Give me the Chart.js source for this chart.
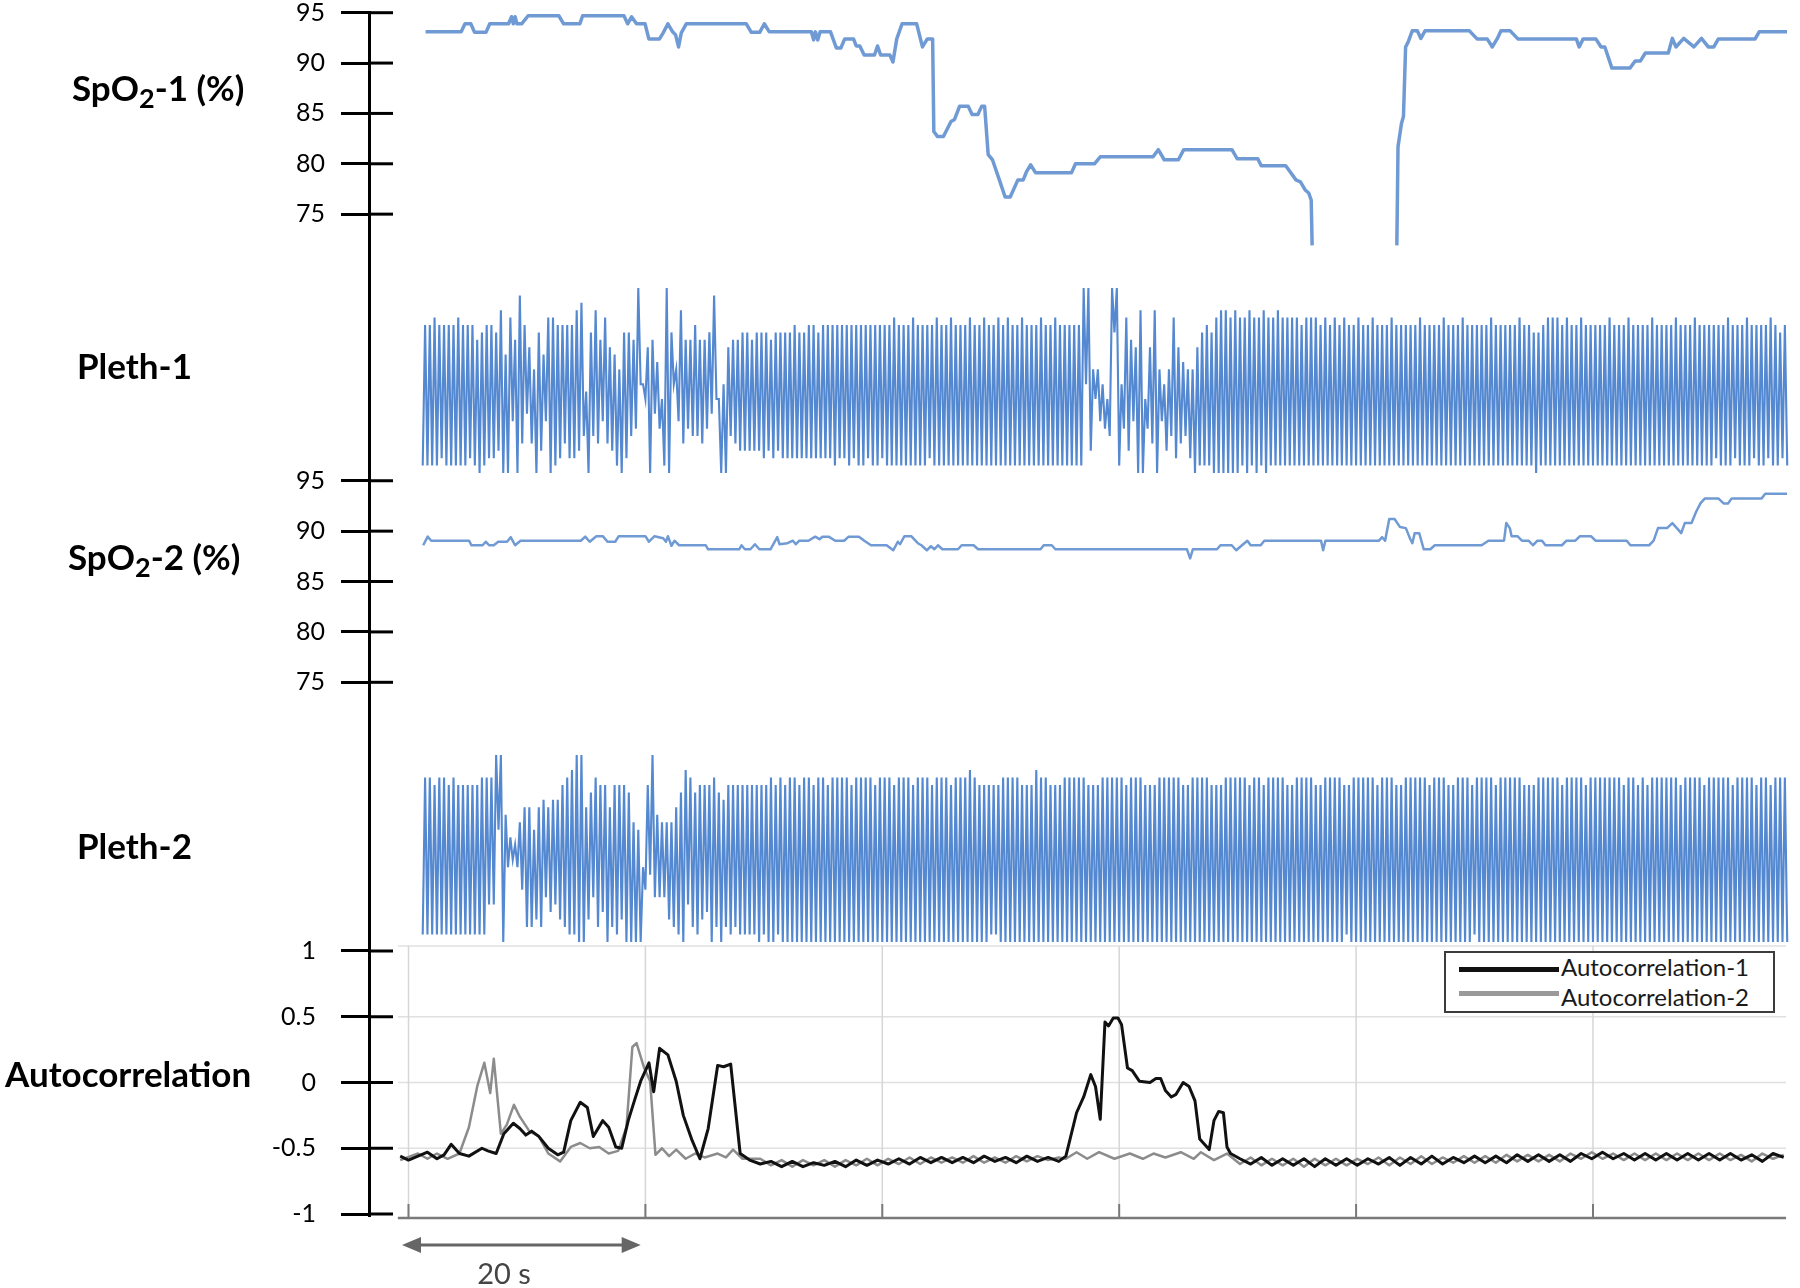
<!DOCTYPE html>
<html>
<head>
<meta charset="utf-8">
<title>SpO2 / Pleth / Autocorrelation</title>
<script src="https://cdn.jsdelivr.net/npm/chart.js@4.4.1/dist/chart.umd.min.js"></script>
<style>
  html, body { margin: 0; padding: 0; background: #fff; }
  #wrap { position: relative; width: 1800px; height: 1288px; font-family: Lato, sans-serif; overflow: hidden; }
  #chart { position: absolute; left: 0; top: 0; }
  .lbl { position: absolute; font-weight: bold; font-size: 35px; line-height: 35px; color: #000; white-space: nowrap; }
  .lbl sub { font-size: 27px; line-height: 0; vertical-align: -7px; }
  #legend { position: absolute; left: 1444px; top: 951px; width: 331px; height: 62px; box-sizing: border-box;
            border: 2px solid #3c3c3c; background: #fff; }
  #legend .ln { position: absolute; left: 13px; width: 100px; height: 5px; }
  #legend .tx { position: absolute; left: 115px; font-size: 24px; line-height: 24px; color: #1a1a1a; white-space: nowrap; }
  #span20 { position: absolute; left: 444px; top: 1258px; width: 120px; text-align: center;
            font-size: 29px; line-height: 29px; color: #444; }
</style>
</head>
<body>
<div id="wrap">
  <canvas id="chart" width="1800" height="1288"></canvas>
  <div class="lbl" style="left:72px;top:70px">SpO<sub>2</sub>-1 (%)</div>
  <div class="lbl" style="left:77px;top:348px">Pleth-1</div>
  <div class="lbl" style="left:68px;top:539px">SpO<sub>2</sub>-2 (%)</div>
  <div class="lbl" style="left:77px;top:828px">Pleth-2</div>
  <div class="lbl" style="left:5px;top:1056px">Autocorrelation</div>
  <div id="legend">
    <div class="ln" style="top:14px;background:#111"></div>
    <div class="tx" style="top:2px">Autocorrelation-1</div>
    <div class="ln" style="top:38px;background:#9a9a9a"></div>
    <div class="tx" style="top:32px">Autocorrelation-2</div>
  </div>
  <div id="span20">20 s</div>
</div>

<script>
// time axis (seconds) and tick values
const timeGrid = [0, 20, 40, 60, 80, 100];
const spoTicks = [95, 90, 85, 80, 75];
const autoTicks = [1, 0.5, 0, -0.5, -1];

// SpO2-1 (%) - null marks the signal dropout
const spo1Time = [1.44, 4.45, 4.77, 5.26, 5.58, 6.54, 6.86, 8.45, 8.7, 8.85,
  9.0, 9.15, 9.55, 10.1, 12.69, 13.1, 14.47, 14.7, 18.19, 18.5,
  18.83, 19.25, 19.97, 20.29, 21.19, 21.5, 21.9, 22.3, 22.55, 22.8,
  23.03, 23.45, 28.52, 28.94, 29.65, 30.04, 30.46, 34.01, 34.2, 34.35,
  34.55, 34.75, 35.63, 36.12, 36.5, 36.83, 37.57, 37.8, 38.1, 38.47,
  39.34, 39.6, 39.86, 40.64, 40.9, 41.22, 41.67, 42.9, 43.39, 43.8,
  44.25, 44.35, 44.67, 45.16, 45.8, 46.1, 46.52, 47.26, 47.58, 48.07,
  48.39, 48.64, 48.94, 49.3, 49.94, 50.37, 50.8, 51.45, 51.9, 52.17,
  52.52, 52.95, 55.97, 56.31, 57.91, 58.42, 62.86, 63.3, 63.8, 65.0,
  65.45, 69.52, 69.96, 71.7, 71.99, 74.06, 74.49, 74.92, 75.3, 75.7,
  76.0, 76.21, 76.29, 80.0, 83.44, 83.54, 83.83, 84.0, 84.18, 84.4,
  84.74, 85.17, 85.47, 85.82, 89.57, 90.21, 91.07, 91.5, 91.93, 92.23,
  93.01, 93.66, 98.6, 98.83, 99.17, 100.24, 100.68, 101.0, 101.6, 103.12,
  103.56, 104.0, 104.42, 106.36, 106.7, 107.0, 107.66, 108.52, 109.16, 109.73,
  110.2, 110.59, 113.69, 114.03, 116.38];
const spo1Value = [93.1, 93.1, 93.9, 93.9, 93.05, 93.05, 93.9, 93.9, 94.6, 93.9,
  94.6, 93.9, 93.9, 94.7, 94.7, 93.9, 93.9, 94.7, 94.7, 93.9,
  94.6, 93.9, 93.9, 92.4, 92.4, 93.0, 93.9, 93.1, 92.8, 91.6,
  93.0, 93.9, 93.9, 93.05, 93.05, 93.9, 93.1, 93.1, 92.3, 93.1,
  92.3, 93.1, 93.1, 91.5, 91.5, 92.4, 92.4, 91.7, 91.7, 90.8,
  90.8, 91.7, 90.8, 90.8, 90.1, 92.4, 93.9, 93.9, 91.6, 92.4,
  92.4, 83.2, 82.7, 82.7, 84.2, 84.4, 85.7, 85.7, 84.9, 84.9,
  85.7, 85.7, 80.9, 80.4, 78.2, 76.7, 76.7, 78.4, 78.4, 79.2,
  79.9, 79.1, 79.1, 80.0, 80.0, 80.7, 80.7, 81.4, 80.4, 80.4,
  81.4, 81.4, 80.5, 80.5, 79.8, 79.8, 79.1, 78.4, 78.2, 77.4,
  77.1, 76.4, 71.9, null, 71.9, 81.7, 84.0, 84.7, 91.6, 92.1,
  93.2, 93.2, 92.45, 93.2, 93.2, 92.4, 92.4, 91.6, 92.45, 93.2,
  93.2, 92.4, 92.4, 91.6, 92.4, 92.4, 91.6, 91.6, 89.5, 89.5,
  90.2, 90.2, 91.0, 91.0, 92.45, 91.6, 92.45, 91.6, 92.45, 91.6,
  91.6, 92.4, 92.4, 93.1, 93.1];

// SpO2-2 (%)
const spo2Time = [1.24, 1.62, 1.92, 5.12, 5.31, 6.26, 6.52, 6.8, 7.2, 7.57,
  8.32, 8.63, 9.0, 9.46, 14.55, 14.92, 15.3, 15.86, 16.4, 16.8,
  17.45, 17.75, 20.0, 20.3, 20.77, 21.5, 21.74, 21.9, 22.2, 22.46,
  22.84, 25.1, 25.29, 27.93, 28.11, 28.4, 28.87, 29.25, 29.62, 30.56,
  31.13, 31.32, 32.0, 32.45, 32.7, 33.0, 33.77, 34.33, 34.7, 34.95,
  35.47, 36.03, 36.78, 37.16, 38.03, 38.48, 39.05, 40.36, 40.93, 41.31,
  41.5, 41.87, 42.44, 43.0, 43.3, 43.76, 44.1, 44.4, 44.7, 45.07,
  46.39, 46.7, 47.71, 48.09, 53.36, 53.63, 54.31, 54.61, 65.72, 65.99,
  66.22, 68.26, 68.55, 69.5, 69.88, 70.37, 70.82, 71.1, 71.95, 72.25,
  77.04, 77.22, 77.41, 81.93, 82.2, 82.45, 82.8, 83.25, 83.71, 84.2,
  84.58, 84.75, 84.95, 85.33, 85.71, 86.27, 86.65, 90.6, 91.17, 92.49,
  92.68, 92.98, 93.13, 93.62, 94.0, 94.56, 94.93, 95.31, 95.7, 95.99,
  97.38, 97.76, 98.51, 98.9, 99.83, 100.21, 102.85, 103.16, 104.74, 105.12,
  105.49, 106.25, 106.7, 107.08, 107.45, 107.75, 108.32, 108.7, 109.07, 109.45,
  110.58, 111.03, 111.4, 111.71, 114.24, 114.54, 116.38];
const spo2Value = [88.6, 89.45, 89.05, 89.05, 88.6, 88.6, 88.95, 88.6, 88.6, 88.95,
  88.95, 89.4, 88.6, 89.05, 89.05, 89.45, 88.95, 89.5, 89.5, 88.95,
  88.95, 89.5, 89.5, 88.95, 89.5, 89.3, 88.95, 89.5, 88.55, 89.05,
  88.6, 88.6, 88.2, 88.2, 88.6, 88.2, 88.2, 88.7, 88.2, 88.2,
  89.4, 88.7, 88.8, 89.05, 88.7, 89.05, 89.05, 89.45, 89.2, 89.45,
  89.45, 89.05, 89.05, 89.45, 89.45, 89.05, 88.6, 88.6, 88.1, 88.95,
  88.7, 89.5, 89.5, 88.8, 88.6, 88.1, 88.5, 88.2, 88.6, 88.2,
  88.2, 88.6, 88.6, 88.2, 88.2, 88.6, 88.6, 88.2, 88.2, 87.3,
  88.2, 88.2, 88.6, 88.6, 88.1, 88.6, 89.05, 88.6, 88.6, 89.05,
  89.05, 88.1, 89.05, 89.05, 89.4, 89.05, 91.2, 91.2, 90.4, 90.3,
  89.2, 88.8, 89.8, 89.8, 88.2, 88.2, 88.6, 88.6, 89.05, 89.05,
  90.8, 90.3, 89.5, 89.5, 89.05, 89.05, 88.6, 89.05, 89.05, 88.6,
  88.6, 89.05, 89.05, 89.5, 89.5, 89.05, 89.05, 88.6, 88.6, 89.05,
  90.3, 90.3, 90.8, 90.3, 89.8, 90.8, 90.8, 91.9, 92.75, 93.25,
  93.25, 92.75, 92.75, 93.25, 93.25, 93.7, 93.7];

// Pleth waveforms: one sample every 0.2 s from 1.2 s, alternating trough / peak.
// Each letter is a level: A = 0 ... Z = 100 (steps of 4).
const plethStart = 1.2;
const plethStep = 0.2;
const pleth1Levels = [
  'BUBUBVBUCU BUBUBVBUBU CUB',
  'SATBUCUCTDWAQAVHSAYE UIREOATDQHVAVBUCUEUC UCWDXFLATFWESHVERDQB OATCTFSGZMMKRASIPGKB ZATMOHWESGSFUFSESGTI YKKAMARFSESDT',
  'DTDSDTDTCT DSCTDTCTCT CUCTCTCUCU CTCUCUCUBU CUCUBUCUBU BUCUBUBUCU BUBVBUBUBU BVBUBUBUCU BVBUBUBVBU BUBUBVBUBU BVBUBUBV',
  'BUBVBUBUBV BUBUBUBVBU BUBVBUBUBU BUBUB',
  'ZMZDOKOHMG KFZTZBMGVD SHRAWAKGRE WAOHMDOFVC REPFOCOARB TBUBTAVA',
  'WAWAVAWAVBVAWBVAVBWA VBVBWBVBVBVBVBUBVBVB VBUBVBUBVBUBVBUBUBVB UBUBVBUBUBUBVBUBUBUB',
  'UBUBVBUBUBUBUBVBUBUB UBVBUBUBUBUBUBVBUBUB UBUBUBVBUBUBTATBUBVB VBVBUBVBUBUBVBUBUBUB',
  'UBUBVBUBUBUBVBUBUBUB UBVBUBUBUBUBVBUBUBUB VBUBUBUBUCUBUBVBUCUB UBVBUCUBUBUCVBUBTCUB'
];
const pleth2Levels = [
  'BWBWBVBWBW BVBWBVBVBV BVBVBWBWFW',
  'FZPZARKOLNKQ',
  'HSCSCPDSCTGSETFTDVCWBXBZA',
  'ZASDUGWCVEVASCVBVDVAUAQAPA',
  'KHVJZGRGQ',
  'GQDQCSBUAXFWCUBVDVEVAWCUATCVBVCVBVB',
  'VBVBVAVBVAWAVBWAVAWA WAVAWAWAVAWAWAVAWAWA WAWAVAWAWAWAWAVAWAWA WAVAWAWAWAVAWAWAWAVA',
  'WAWAWAVAWAWAWAXAWAVA VAVBVBVAWAWAWAWAVAVA VAXAWAWAVAVAVAWAWAWA WAWAVAVAVAWAWAWAWAWA',
  'VAWAWAWAVAVAVAWAWAWA WAWAVAVAWAWAWAWAVAVA VAWAWAWAWAWAVAWAWAVA WAWAWAWAVAVAWAWAWAWA',
  'VAVAWAWAWAWAVBVAWAWA WAWAWAVAWAWAWAVAVAWA WAWAWAWAVAWAWAWAVAVA WAWAWAVBWAWAWAWAVAWA',
  'WAWAWAWAVAVAVAWAWAWA WAWAVAWAWAWAWAVAWAWA WAWAWAWAWAVAWAWAVAWA VAWAWAWAWAWAWAVAWAWA',
  'WAWAVAWAWAWAWAWAVAWA WAWAWAVAWAWAVAWAWAWA'
];

// Autocorrelation-1 (black)
const auto1Time = [-0.7, 0.0, 0.8, 1.6, 2.4, 3.0, 3.6, 4.3, 5.1, 6.2,
  6.7, 7.4, 8.05, 8.85, 9.4, 9.9, 10.4, 11.0, 11.8, 12.6,
  13.1, 13.7, 14.5, 15.1, 15.6, 16.4, 16.9, 17.5, 18.0, 18.55,
  19.1, 19.6, 20.3, 20.7, 21.2, 21.9, 22.6, 23.2, 23.9, 24.6,
  25.3, 26.1, 26.6, 27.2, 28.0, 28.8,
  29.7, 30.6, 31.5, 32.4, 33.3, 34.2, 35.1, 36.0, 36.9, 37.8,
  38.7, 39.6, 40.5, 41.4, 42.3, 43.2, 44.1, 45.0, 45.9, 46.8,
  47.7, 48.6, 49.5, 50.4, 51.3, 52.2, 53.1, 54.0, 54.9,
  55.5, 56.4, 57.0, 57.6, 58.0, 58.4, 58.8, 59.1, 59.5, 59.9,
  60.2, 60.7, 61.1, 61.7, 62.6, 63.1, 63.5, 63.9, 64.4, 64.8,
  65.4, 65.9, 66.4, 66.8, 67.6, 68.0, 68.4, 68.8, 69.1, 69.4,
  70.2, 71.1, 72.0, 72.9, 73.8, 74.7, 75.6, 76.5, 77.4, 78.3,
  79.2, 80.1, 81.0, 81.9, 82.8, 83.7, 84.6, 85.5, 86.4, 87.3,
  88.2, 89.1, 90.0, 90.9, 91.8, 92.7, 93.6, 94.5, 95.4, 96.3,
  97.2, 98.1, 99.0, 99.9, 100.8, 101.7, 102.6, 103.5, 104.4, 105.3,
  106.2, 107.1, 108.0, 108.9, 109.8, 110.7, 111.6, 112.5, 113.4, 114.3,
  115.2, 116.1];
const auto1Value = [-0.56, -0.59, -0.56, -0.53, -0.58, -0.55, -0.47, -0.54, -0.56, -0.50,
  -0.52, -0.54, -0.39, -0.31, -0.35, -0.40, -0.37, -0.41, -0.50, -0.55,
  -0.53, -0.29, -0.15, -0.19, -0.41, -0.29, -0.34, -0.49, -0.50, -0.29,
  -0.13, 0.01, 0.15, -0.07, 0.26, 0.21, 0.01, -0.25, -0.43, -0.58,
  -0.35, 0.13, 0.12, 0.14, -0.54, -0.59,
  -0.62, -0.60, -0.64, -0.60, -0.64, -0.61, -0.63, -0.60, -0.64, -0.59,
  -0.63, -0.59, -0.62, -0.58, -0.62, -0.57, -0.61, -0.57, -0.61, -0.57,
  -0.61, -0.56, -0.60, -0.57, -0.61, -0.56, -0.60, -0.57, -0.60,
  -0.56, -0.23, -0.11, 0.06, -0.03, -0.28, 0.46, 0.43, 0.49, 0.49,
  0.44, 0.11, 0.09, 0.01, 0.0, 0.03, 0.03, -0.06, -0.11, -0.09,
  0.0, -0.03, -0.14, -0.43, -0.51, -0.29, -0.22, -0.23, -0.49, -0.54,
  -0.58, -0.62, -0.57, -0.63, -0.58, -0.63, -0.58, -0.64, -0.58, -0.63,
  -0.58, -0.63, -0.58, -0.62, -0.57, -0.63, -0.57, -0.62, -0.56, -0.62,
  -0.57, -0.61, -0.56, -0.61, -0.56, -0.61, -0.55, -0.60, -0.55, -0.60,
  -0.55, -0.60, -0.54, -0.58, -0.53, -0.58, -0.54, -0.59, -0.54, -0.59,
  -0.54, -0.59, -0.54, -0.59, -0.54, -0.59, -0.54, -0.59, -0.55, -0.60,
  -0.54, -0.57];

// Autocorrelation-2 (grey)
const auto2Time = [-0.7, 0.8, 1.6, 2.4, 3.3, 4.3, 5.1, 5.8, 6.4, 6.9,
  7.2, 7.8, 8.3, 8.9, 9.4, 10.2, 11.0, 11.8, 12.8, 13.7,
  14.5, 15.3, 16.1, 16.9, 17.7, 18.4, 18.9, 19.25, 19.9, 20.4,
  20.85, 21.4, 22.0, 22.6, 23.4, 24.2, 25.0, 26.1, 26.8, 27.4,
  28.2,
  29.7, 30.6, 31.5, 32.4, 33.3, 34.2, 35.1, 36.0, 36.9, 37.8,
  38.7, 39.6, 40.5, 41.4, 42.3, 43.2, 44.1, 45.0, 45.9, 46.8,
  47.7, 48.6, 49.5, 50.4, 51.3, 52.2, 53.1, 54.0, 54.9,
  55.5, 56.4, 57.3, 58.3, 59.6, 60.9, 62.0, 62.9, 63.9, 65.2,
  66.3, 66.9, 68.0, 69.1,
  70.2, 71.1, 72.0, 72.9, 73.8, 74.7, 75.6, 76.5, 77.4, 78.3,
  79.2, 80.1, 81.0, 81.9, 82.8, 83.7, 84.6, 85.5, 86.4, 87.3,
  88.2, 89.1, 90.0, 90.9, 91.8, 92.7, 93.6, 94.5, 95.4, 96.3,
  97.2, 98.1, 99.0, 99.9, 100.8, 101.7, 102.6, 103.5, 104.4, 105.3,
  106.2, 107.1, 108.0, 108.9, 109.8, 110.7, 111.6, 112.5, 113.4, 114.3,
  115.2, 116.1];
const auto2Value = [-0.59, -0.54, -0.58, -0.54, -0.58, -0.54, -0.34, -0.03, 0.15, -0.08,
  0.18, -0.39, -0.32, -0.17, -0.26, -0.37, -0.41, -0.54, -0.60, -0.49,
  -0.46, -0.50, -0.49, -0.54, -0.52, -0.34, 0.27, 0.30, 0.11, 0.01,
  -0.55, -0.50, -0.56, -0.51, -0.58, -0.54, -0.57, -0.54, -0.57, -0.51,
  -0.58,
  -0.58, -0.63, -0.59, -0.64, -0.59, -0.63, -0.59, -0.64, -0.59, -0.63,
  -0.58, -0.63, -0.58, -0.62, -0.57, -0.62, -0.57, -0.61, -0.57, -0.61,
  -0.56, -0.61, -0.57, -0.61, -0.56, -0.60, -0.56, -0.59, -0.57,
  -0.58, -0.53, -0.58, -0.53, -0.58, -0.54, -0.58, -0.54, -0.57, -0.53,
  -0.58, -0.53, -0.59, -0.54,
  -0.62, -0.57, -0.63, -0.58, -0.63, -0.58, -0.64, -0.58, -0.63, -0.58,
  -0.63, -0.58, -0.62, -0.57, -0.63, -0.57, -0.62, -0.56, -0.62, -0.57,
  -0.61, -0.56, -0.61, -0.56, -0.61, -0.55, -0.60, -0.55, -0.60, -0.55,
  -0.60, -0.54, -0.58, -0.53, -0.58, -0.54, -0.59, -0.54, -0.59, -0.54,
  -0.59, -0.54, -0.59, -0.54, -0.59, -0.54, -0.59, -0.55, -0.60, -0.54,
  -0.58, -0.55];

function points(xs, ys) {
  return xs.map((x, i) => ({ x: x, y: ys[i] }));
}

function plethPoints(levels) {
  const chars = levels.join('').replace(/\s/g, '').split('');
  return chars.map((c, i) => ({ x: plethStart + i * plethStep, y: (c.charCodeAt(0) - 65) * 4 }));
}

function leftAxis(min, max, stackWeight, order, ticks, pad) {
  return {
    type: 'linear',
    position: 'left',
    stack: 'left',
    stackWeight: stackWeight,
    weight: order,
    min: min,
    max: max,
    offset: false,
    border: { display: true, color: '#000', width: 3 },
    grid: { drawOnChartArea: false, drawTicks: true, tickLength: 28, color: '#000', lineWidth: 3 },
    ticks: {
      color: '#000', padding: pad, autoSkip: false,
      font: { family: 'Lato', size: 25 },
      callback: v => String(v)
    },
    afterBuildTicks: s => { s.ticks = ticks.map(v => ({ value: v })); },
    afterFit: s => {
      s.width = 369;
      s.paddingTop = 0;
      s.paddingBottom = 0;
    }
  };
}

// frame of the autocorrelation panel, inner halves of the y ticks and the 20 s marker
const panelPlugin = {
  id: 'panel',
  beforeDatasetsDraw(chart) {
    const ctx = chart.ctx;
    const x = chart.scales.x;
    const ya = chart.scales.yAuto;
    const left = x.getPixelForValue(-0.9);
    const right = x.getPixelForValue(116.3);
    const top = ya.top;
    const bottom = ya.getPixelForValue(-1) + 4;
    const line = (x1, y1, x2, y2) => { ctx.beginPath(); ctx.moveTo(x1, y1); ctx.lineTo(x2, y2); ctx.stroke(); };
    ctx.save();
    ctx.strokeStyle = '#e0e0e0';
    ctx.lineWidth = 1.5;
    line(left, top, right, top);
    [0.5, 0, -0.5].forEach(v => { const y = ya.getPixelForValue(v); line(left, y, right, y); });
    ctx.strokeStyle = '#d6d6d6';
    timeGrid.forEach(t => { const px = x.getPixelForValue(t); line(px, top, px, bottom); });
    ctx.strokeStyle = '#7a7a7a';
    ctx.lineWidth = 2.5;
    line(left, bottom, right, bottom);
    ctx.lineWidth = 2;
    timeGrid.forEach(t => { const px = x.getPixelForValue(t); line(px, bottom - 14, px, bottom); });
    ctx.restore();
  },
  afterDraw(chart) {
    const ctx = chart.ctx;
    ctx.save();
    ctx.strokeStyle = '#000';
    ctx.lineWidth = 3;
    ['ySpo1', 'ySpo2', 'yAuto'].forEach(id => {
      const s = chart.scales[id];
      s.ticks.forEach(t => {
        const y = s.getPixelForValue(t.value);
        ctx.beginPath(); ctx.moveTo(s.right, y); ctx.lineTo(s.right + 24, y); ctx.stroke();
      });
    });
    // 20 s double arrow
    const x = chart.scales.x;
    const y = chart.scales.yAuto.getPixelForValue(-1) + 31;
    const a = x.getPixelForValue(-0.55);
    const b = x.getPixelForValue(19.6);
    ctx.strokeStyle = '#666';
    ctx.fillStyle = '#666';
    ctx.lineWidth = 3;
    ctx.beginPath(); ctx.moveTo(a + 10, y); ctx.lineTo(b - 10, y); ctx.stroke();
    ctx.beginPath(); ctx.moveTo(a, y); ctx.lineTo(a + 19, y - 8); ctx.lineTo(a + 19, y + 8); ctx.closePath(); ctx.fill();
    ctx.beginPath(); ctx.moveTo(b, y); ctx.lineTo(b - 19, y - 8); ctx.lineTo(b - 19, y + 8); ctx.closePath(); ctx.fill();
    ctx.restore();
  }
};

document.addEventListener('DOMContentLoaded', () => {
  const spoBlue = 'rgb(112, 154, 212)';
  const plethBlue = 'rgb(84, 136, 208)';
  const line = { pointRadius: 0, fill: false, tension: 0, borderJoinStyle: 'round', clip: false };

  const ctx = document.getElementById('chart').getContext('2d');
  new Chart(ctx, {
    type: 'line',
    data: {
      datasets: [
        Object.assign({ label: 'SpO2-1', data: points(spo1Time, spo1Value), yAxisID: 'ySpo1',
          borderColor: spoBlue, borderWidth: 3.5 }, line),
        Object.assign({ label: 'Pleth-1', data: plethPoints(pleth1Levels), yAxisID: 'yPleth1',
          borderColor: plethBlue, borderWidth: 2.1 }, line, { borderJoinStyle: 'miter' }),
        Object.assign({ label: 'SpO2-2', data: points(spo2Time, spo2Value), yAxisID: 'ySpo2',
          borderColor: spoBlue, borderWidth: 2.5 }, line),
        Object.assign({ label: 'Pleth-2', data: plethPoints(pleth2Levels), yAxisID: 'yPleth2',
          borderColor: plethBlue, borderWidth: 2.1 }, line, { borderJoinStyle: 'miter' }),
        Object.assign({ label: 'Autocorrelation-1', data: points(auto1Time, auto1Value), yAxisID: 'yAuto',
          borderColor: '#111', borderWidth: 3, order: 0 }, line),
        Object.assign({ label: 'Autocorrelation-2', data: points(auto2Time, auto2Value), yAxisID: 'yAuto',
          borderColor: '#8c8c8c', borderWidth: 2.5, order: 1 }, line)
      ]
    },
    options: {
      responsive: false,
      animation: false,
      devicePixelRatio: 1,
      events: [],
      layout: { padding: { top: 12, right: 13, bottom: 73, left: 0 } },
      plugins: { legend: { display: false }, tooltip: { enabled: false } },
      scales: {
        x: { type: 'linear', min: -3.335, max: 116.38, display: false },
        ySpo1: leftAxis(71.44, 95.07, 238, 5, spoTicks, 16),
        yPleth1: leftAxis(-1.08, 120.54, 225, 4, [], 16),
        ySpo2: leftAxis(71.26, 95.57, 245, 3, spoTicks, 16),
        yPleth2: leftAxis(-2.14, 118.72, 226, 2, [], 16),
        yAuto: leftAxis(-1.0076, 1.038, 269, 1, autoTicks, 25)
      }
    },
    plugins: [panelPlugin]
  });
});
</script>
</body>
</html>
